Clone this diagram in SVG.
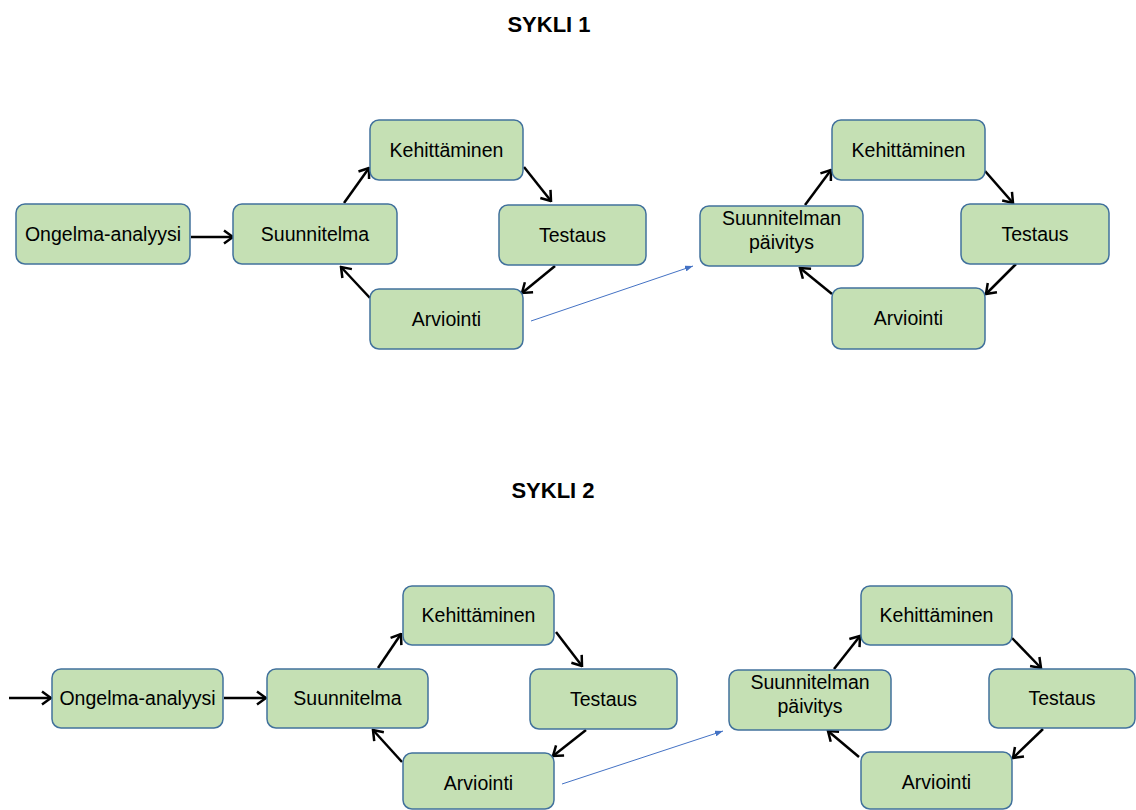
<svg xmlns="http://www.w3.org/2000/svg" width="1136" height="810" viewBox="0 0 1136 810">
<defs>
<marker id="ah" viewBox="0 0 12 16" refX="10.5" refY="8" markerWidth="12" markerHeight="16" markerUnits="userSpaceOnUse" orient="auto">
<path d="M1.5,1.5 L10.5,8 L1.5,14.5" fill="none" stroke="#000" stroke-width="2.5"/>
</marker>
<marker id="bh" viewBox="0 0 8 6" refX="8" refY="3" markerWidth="8" markerHeight="6" markerUnits="userSpaceOnUse" orient="auto">
<path d="M0,0 L8,3 L0,6 Z" fill="#4472C4"/>
</marker>
</defs>
<style>
.box{fill:#C5E0B4;stroke:#41719C;stroke-width:1.5}
.t{font-family:"Liberation Sans",Arial,sans-serif;font-size:19.5px;fill:#000;text-anchor:middle}
.title{font-family:"Liberation Sans",Arial,sans-serif;font-size:22px;font-weight:bold;fill:#000;text-anchor:middle}
.c{stroke:#000;stroke-width:2.5;fill:none;marker-end:url(#ah)}
.b{stroke:#4472C4;stroke-width:1;fill:none;marker-end:url(#bh)}
</style>
<rect width="1136" height="810" fill="#fff"/>
<text class="title" x="549" y="32">SYKLI 1</text>
<text class="title" x="553" y="498">SYKLI 2</text>

<g id="connectors">
<line class="c" x1="191" y1="237" x2="233" y2="237"/>
<line class="c" x1="344" y1="203" x2="369" y2="168"/>
<line class="c" x1="524" y1="167" x2="551" y2="201"/>
<line class="c" x1="555" y1="266" x2="522" y2="293"/>
<line class="c" x1="370" y1="298" x2="341" y2="267"/>
<line class="b" x1="531" y1="321" x2="693" y2="266"/>
<line class="c" x1="805" y1="205" x2="831" y2="170"/>
<line class="c" x1="985" y1="171" x2="1013" y2="203"/>
<line class="c" x1="1016" y1="264" x2="986" y2="294"/>
<line class="c" x1="832" y1="294" x2="800" y2="268"/>

<line class="c" x1="9" y1="698" x2="51" y2="698"/>
<line class="c" x1="224" y1="698" x2="266" y2="698"/>
<line class="c" x1="378" y1="668" x2="401" y2="634"/>
<line class="c" x1="556" y1="632" x2="582" y2="666"/>
<line class="c" x1="586" y1="730" x2="553" y2="756"/>
<line class="c" x1="402" y1="762" x2="373" y2="730"/>
<line class="b" x1="562" y1="784" x2="723" y2="731"/>
<line class="c" x1="834" y1="669" x2="860" y2="636"/>
<line class="c" x1="1012" y1="638" x2="1041" y2="668"/>
<line class="c" x1="1043" y1="729" x2="1013" y2="758"/>
<line class="c" x1="859" y1="757" x2="828" y2="731"/>
</g>

<g id="s1-ongelma"><rect class="box" x="16" y="204" width="174" height="60" rx="9"/><text class="t" x="103" y="241">Ongelma-analyysi</text></g>
<g id="s1-suunnitelma"><rect class="box" x="233" y="204" width="164" height="60" rx="9"/><text class="t" x="315" y="241">Suunnitelma</text></g>
<g id="s1-kehittaminen"><rect class="box" x="370" y="120" width="153" height="60" rx="9"/><text class="t" x="446.5" y="157">Kehittäminen</text></g>
<g id="s1-testaus"><rect class="box" x="499" y="205" width="147" height="60" rx="9"/><text class="t" x="572.5" y="242">Testaus</text></g>
<g id="s1-arviointi"><rect class="box" x="370" y="289" width="153" height="60" rx="9"/><text class="t" x="446.5" y="326">Arviointi</text></g>
<g id="s1-paivitys"><rect class="box" x="700" y="206" width="163" height="60" rx="9"/><text class="t" x="781.5" y="225">Suunnitelman</text><text class="t" x="781.5" y="249">päivitys</text></g>
<g id="s1-kehittaminen2"><rect class="box" x="832" y="120" width="153" height="60" rx="9"/><text class="t" x="908.5" y="157">Kehittäminen</text></g>
<g id="s1-testaus2"><rect class="box" x="961" y="204" width="148" height="60" rx="9"/><text class="t" x="1035" y="241">Testaus</text></g>
<g id="s1-arviointi2"><rect class="box" x="832" y="288" width="153" height="61" rx="9"/><text class="t" x="908.5" y="325">Arviointi</text></g>

<g id="s2-ongelma"><rect class="box" x="52" y="669" width="171" height="59" rx="9"/><text class="t" x="137.5" y="705">Ongelma-analyysi</text></g>
<g id="s2-suunnitelma"><rect class="box" x="267" y="669" width="161" height="59" rx="9"/><text class="t" x="347.5" y="705">Suunnitelma</text></g>
<g id="s2-kehittaminen"><rect class="box" x="403" y="586" width="151" height="59" rx="9"/><text class="t" x="478.5" y="622">Kehittäminen</text></g>
<g id="s2-testaus"><rect class="box" x="530" y="669" width="147" height="60" rx="9"/><text class="t" x="603.5" y="706">Testaus</text></g>
<g id="s2-arviointi"><rect class="box" x="403" y="753" width="151" height="56" rx="9"/><text class="t" x="478.5" y="790">Arviointi</text></g>
<g id="s2-paivitys"><rect class="box" x="729" y="670" width="162" height="60" rx="9"/><text class="t" x="810" y="689">Suunnitelman</text><text class="t" x="810" y="713">päivitys</text></g>
<g id="s2-kehittaminen2"><rect class="box" x="861" y="586" width="151" height="59" rx="9"/><text class="t" x="936.5" y="622">Kehittäminen</text></g>
<g id="s2-testaus2"><rect class="box" x="989" y="669" width="146" height="59" rx="9"/><text class="t" x="1062" y="705">Testaus</text></g>
<g id="s2-arviointi2"><rect class="box" x="861" y="752" width="151" height="57" rx="9"/><text class="t" x="936.5" y="789">Arviointi</text></g>
</svg>
